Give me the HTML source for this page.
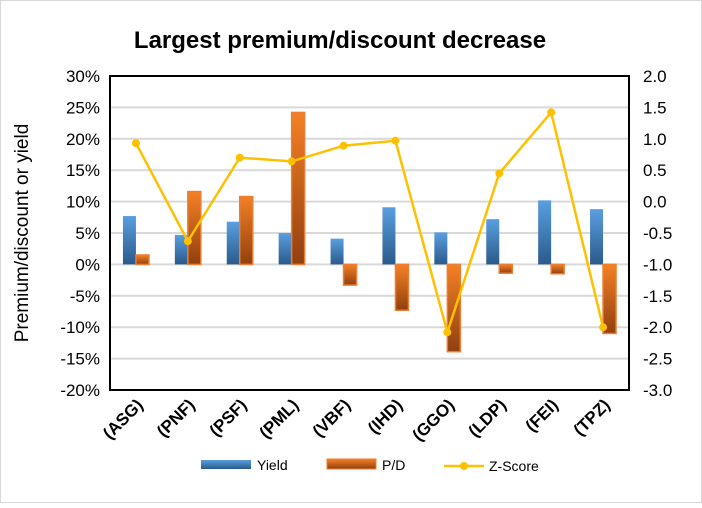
<!DOCTYPE html>
<html><head><meta charset="utf-8"><style>
body{margin:0;background:#fff;}
svg text{font-family:"Liberation Sans",sans-serif;}
</style></head><body>
<svg width="702" height="503" viewBox="0 0 702 503">
<defs>
<linearGradient id="gb" x1="0" y1="0" x2="0" y2="1"><stop offset="0" stop-color="#5a9fe0"/><stop offset="1" stop-color="#2a5a8a"/></linearGradient>
<linearGradient id="go" x1="0" y1="0" x2="0" y2="1"><stop offset="0" stop-color="#f58025"/><stop offset="1" stop-color="#904010"/></linearGradient>
</defs>
<rect x="0.5" y="0.5" width="701" height="502" fill="#fff" stroke="#d9d9d9"/>
<text x="340" y="48" text-anchor="middle" font-size="24" font-weight="bold" fill="#000">Largest premium/discount decrease</text>
<g id="grid"></g>
<g id="bars"></g>
<g id="line"></g>
<g id="axes"></g>
<text transform="translate(28,233) rotate(-90)" text-anchor="middle" font-size="19" fill="#000">Premium/discount or yield</text>
<g>
<rect x="201" y="460" width="50" height="9" fill="url(#gb)"/>
<text x="257" y="470" font-size="14">Yield</text>
<rect x="327" y="459" width="49" height="10" fill="url(#go)" stroke="#ed7d31"/>
<text x="382" y="470" font-size="14">P/D</text>
<line x1="444" y1="466" x2="484" y2="466" stroke="#ffc000" stroke-width="2.5"/>
<circle cx="464" cy="466" r="4" fill="#ffc000"/>
<text x="489" y="471" font-size="14">Z-Score</text>
</g>
</svg>
<script>
const categories=["(ASG)","(PNF)","(PSF)","(PML)","(VBF)","(IHD)","(GGO)","(LDP)","(FEI)","(TPZ)"];
const yieldVals=[7.7,4.7,6.8,5.0,4.1,9.1,5.1,7.2,10.2,8.8];
const pdVals=[1.5,11.6,10.8,24.2,-3.3,-7.3,-13.9,-1.4,-1.5,-11.0];
const zVals=[0.93,-0.63,0.70,0.64,0.89,0.97,-2.08,0.45,1.42,-2.0];
const leftTicks=[30,25,20,15,10,5,0,-5,-10,-15,-20];
const rightTicks=[2.0,1.5,1.0,0.5,0.0,-0.5,-1.0,-1.5,-2.0,-2.5,-3.0];
const NS="http://www.w3.org/2000/svg";
const X0=110,X1=629,Y0=76,Y1=390;
const yL=v=>Y0+(30-v)/50*(Y1-Y0);
const yR=v=>Y0+(2-v)/5*(Y1-Y0);
const bw=(X1-X0)/categories.length;
const cx=i=>X0+bw*(i+0.5);
function mk(tag,attrs,parent){const e=document.createElementNS(NS,tag);for(const k in attrs)e.setAttribute(k,attrs[k]);document.getElementById(parent).appendChild(e);return e;}
leftTicks.forEach(t=>{
 if(t!==30&&t!==-20){const g=mk('line',{x1:X0,x2:X1,y1:yL(t),y2:yL(t),stroke:'#d9d9d9','stroke-width':2},'grid');
 
 }
 const tx=mk('text',{x:X0-10,y:yL(t)+6,'text-anchor':'end','font-size':17},'axes');tx.textContent=t+'%';
 
 
});
rightTicks.forEach(t=>{
 const tx=mk('text',{x:X1+14,y:yR(t)+6,'text-anchor':'start','font-size':17},'axes');tx.textContent=t.toFixed(1);
 
 
});
const frame=mk('rect',{x:X0,y:Y0,width:X1-X0,height:Y1-Y0,fill:'none',stroke:'#000','stroke-width':2},'axes');


categories.forEach((c,i)=>{
 const x=cx(i);
 const yv=yieldVals[i];
 const b=mk('rect',{x:x-13,y:Math.min(yL(yv),yL(0)),width:13,height:Math.abs(yL(yv)-yL(0)),fill:'url(#gb)'},'bars');
 
 
 const pv=pdVals[i];
 const p=mk('rect',{x:x,y:Math.min(yL(pv),yL(0)),width:13,height:Math.abs(yL(pv)-yL(0)),fill:'url(#go)',stroke:'#ed7d31','stroke-width':1.5},'bars');
 
 
 const t=mk('text',{x:0,y:0,'text-anchor':'end','font-size':17,'font-weight':'bold',transform:`translate(${x+8},${Y1+16}) rotate(-45)`},'axes');
 t.textContent=c;
 
 
});
const pts=zVals.map((v,i)=>cx(i)+','+yR(v)).join(' ');
const pl=mk('polyline',{points:pts,fill:'none',stroke:'#ffc000','stroke-width':2.5},'line');


zVals.forEach((v,i)=>{
 const c=mk('circle',{cx:cx(i),cy:yR(v),r:4,fill:'#ffc000'},'line');
 
 
});
</script>
</body></html>
